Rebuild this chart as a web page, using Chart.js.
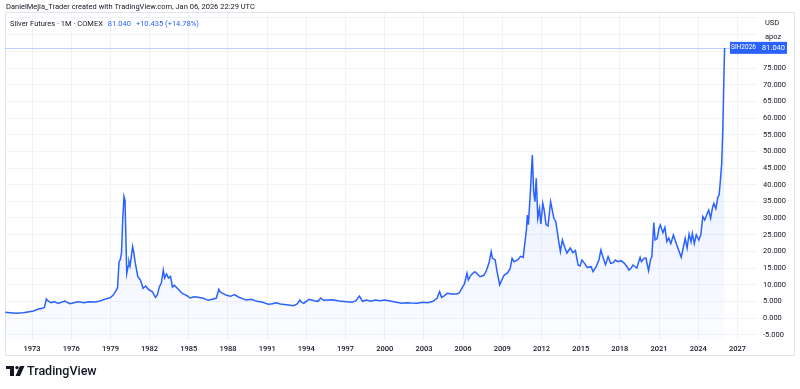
<!DOCTYPE html>
<html>
<head>
<meta charset="utf-8">
<script src="https://cdn.jsdelivr.net/npm/chart.js@4/dist/chart.umd.min.js"></script>
<style>
  body { margin: 0; background: #fff; }
  #chart { display: block; }
</style>
</head>
<body>
<canvas id="chart" width="800" height="389"></canvas>
<script>
// monthly-ish closes, Silver Futures 1M COMEX (decimal year -> USD/oz)
const years = [
  1970.95, 1971.3, 1971.8, 1972.3, 1972.8, 1973.1, 1973.5, 1973.8, 1973.95, 1974.1,
  1974.2, 1974.45, 1974.7, 1975.0, 1975.5, 1975.9, 1976.2, 1976.5, 1977.0, 1977.3,
  1977.8, 1978.2, 1978.7, 1979.0, 1979.2, 1979.4, 1979.55, 1979.66, 1979.75, 1979.85,
  1979.94, 1980.04, 1980.12, 1980.25, 1980.35, 1980.42, 1980.5, 1980.62, 1980.7, 1980.78,
  1980.9, 1981.1, 1981.3, 1981.5, 1981.7, 1981.9, 1982.2, 1982.45, 1982.6, 1982.75,
  1982.9, 1983.05, 1983.15, 1983.3, 1983.45, 1983.6, 1983.75, 1983.9, 1984.1, 1984.25,
  1984.45, 1984.7, 1984.9, 1985.1, 1985.4, 1985.7, 1986.1, 1986.5, 1986.8, 1987.1,
  1987.3, 1987.4, 1987.6, 1987.9, 1988.2, 1988.5, 1988.8, 1989.1, 1989.4, 1989.8,
  1990.2, 1990.6, 1991.1, 1991.4, 1991.7, 1992.0, 1992.5, 1993.0, 1993.3, 1993.5,
  1993.6, 1993.8, 1994.2, 1994.6, 1994.9, 1995.1, 1995.3, 1995.6, 1996.0, 1996.5,
  1997.1, 1997.5, 1997.8, 1998.05, 1998.15, 1998.3, 1998.6, 1998.9, 1999.3, 1999.6,
  2000.0, 2000.5, 2000.9, 2001.3, 2001.7, 2002.0, 2002.5, 2002.9, 2003.3, 2003.7,
  2004.0, 2004.2, 2004.35, 2004.5, 2004.8, 2005.1, 2005.5, 2005.7, 2005.9, 2006.1,
  2006.3, 2006.4, 2006.6, 2006.9, 2007.1, 2007.3, 2007.6, 2007.8, 2008.0, 2008.15,
  2008.25, 2008.45, 2008.6, 2008.8, 2008.95, 2009.15, 2009.4, 2009.6, 2009.75, 2009.9,
  2010.2, 2010.4, 2010.6, 2010.7, 2010.85, 2010.92, 2011.0, 2011.15, 2011.3, 2011.4,
  2011.5, 2011.6, 2011.72, 2011.85, 2011.95, 2012.1, 2012.2, 2012.35, 2012.5, 2012.7,
  2012.8, 2012.95, 2013.1, 2013.3, 2013.45, 2013.6, 2013.8, 2013.95, 2014.2, 2014.4,
  2014.6, 2014.8, 2014.95, 2015.1, 2015.3, 2015.5, 2015.8, 2015.95, 2016.2, 2016.4,
  2016.55, 2016.75, 2016.9, 2017.1, 2017.3, 2017.5, 2017.65, 2017.85, 2018.1, 2018.35,
  2018.55, 2018.7, 2018.85, 2019.0, 2019.3, 2019.55, 2019.65, 2019.85, 2020.0, 2020.2,
  2020.35, 2020.45, 2020.6, 2020.7, 2020.85, 2021.0, 2021.1, 2021.3, 2021.45, 2021.6,
  2021.75, 2021.9, 2022.1, 2022.3, 2022.5, 2022.7, 2022.85, 2023.0, 2023.15, 2023.3,
  2023.45, 2023.55, 2023.7, 2023.85, 2024.05, 2024.2, 2024.35, 2024.5, 2024.7, 2024.8,
  2024.95, 2025.1, 2025.2, 2025.35, 2025.5, 2025.6, 2025.7, 2025.8, 2025.88, 2025.96,
  2026.02
];
const closes = [
  1.7, 1.6, 1.4, 1.6, 1.9, 2.1, 2.7, 2.9, 3.2, 5.7,
  5.2, 4.6, 4.9, 4.4, 5.1, 4.3, 4.6, 4.9, 4.6, 4.9,
  4.8, 5.1, 5.8, 6.1, 6.8, 8.0, 9.2, 16.9, 17.4, 19.5,
  29.4, 36.4, 35.2, 13.4, 15.5, 16.9, 15.6, 19.0, 21.4, 19.8,
  16.6, 12.4, 11.4, 8.9, 9.6, 8.6, 7.9, 6.2, 7.0, 9.4,
  10.5, 14.4, 12.0, 13.2, 12.0, 12.5, 9.3, 9.8, 9.0, 8.4,
  7.5, 7.0, 6.6, 6.0, 6.4, 6.2, 5.9, 5.3, 5.6, 5.9,
  8.6, 7.8, 7.4, 6.8, 6.5, 7.0, 6.3, 5.8, 5.4, 5.6,
  5.0, 4.8, 4.1, 4.3, 4.6, 4.2, 4.0, 3.7, 4.2, 5.4,
  4.8, 4.4, 5.6, 5.2, 5.0, 6.0, 5.3, 5.4, 5.5, 5.1,
  4.9, 4.7, 5.2, 6.6, 6.0, 5.0, 5.4, 5.0, 5.4, 5.2,
  5.4, 5.0, 4.7, 4.4, 4.6, 4.5, 4.4, 4.7, 4.6, 5.0,
  5.9, 7.9, 6.2, 6.5, 7.4, 7.2, 7.2, 7.5, 8.9, 10.2,
  13.4, 11.4, 12.9, 13.9, 13.2, 12.4, 12.8, 14.4, 16.8, 19.9,
  17.9, 17.5, 14.0, 9.9, 11.3, 12.9, 13.5, 14.8, 17.9, 16.9,
  17.5, 18.5, 18.2, 21.6, 26.5, 30.9, 28.0, 37.9, 48.9, 38.0,
  34.9, 41.9, 29.9, 32.8, 28.2, 34.4, 32.5, 28.0, 27.6, 34.9,
  32.9, 29.9, 28.9, 23.5, 19.9, 23.4, 21.0, 19.5, 21.0, 19.6,
  20.2, 15.9, 15.6, 17.4, 16.4, 15.2, 15.4, 13.9, 15.5, 17.5,
  20.4, 17.8, 16.0, 18.4, 16.4, 16.6, 17.4, 16.9, 17.2, 16.4,
  15.4, 14.4, 14.9, 15.9, 15.0, 18.2, 16.9, 17.9, 18.0, 14.2,
  17.5, 18.4, 28.6, 23.4, 23.8, 26.9, 27.9, 25.6, 27.2, 22.9,
  24.0, 22.3, 24.9, 22.6, 20.4, 18.2, 21.0, 23.9, 21.0, 25.2,
  22.9, 25.4, 22.3, 25.0, 23.4, 25.0, 30.4, 29.4, 31.5, 32.4,
  29.9, 33.3, 34.4, 32.8, 36.2, 36.9, 41.4, 46.5, 56.5, 71.0,
  81.04
];
const yearTicks = [1973, 1976, 1979, 1982, 1985, 1988, 1991, 1994, 1997, 2000,
  2003, 2006, 2009, 2012, 2015, 2018, 2021, 2024, 2027];
const priceTicks = [-5, 0, 5, 10, 15, 20, 25, 30, 35, 40, 45, 50, 55, 60, 65, 70, 75, 80, 85, 90];
const lastPrice = 81.04;
const headerText = 'DanielMejia_Trader created with TradingView.com, Jan 06, 2026 22:29 UTC';
const seriesTitle = 'Silver Futures \u00b7 1M \u00b7 COMEX';
const changeText = '+10.435 (+14.78%)';

const blue = '#2962ff';
const textDark = '#131722';
const gridColor = '#f0f3fa';
const font = 'Roboto, "Noto Sans", sans-serif';

const points = years.map((x, i) => ({ x: x, y: closes[i] }));

// frame, header texts, price line and labels, logo
const overlay = {
  id: 'overlay',
  beforeDraw(chart) {
    const c = chart.ctx;
    c.save();
    c.strokeStyle = '#e0e3eb';
    c.lineWidth = 1;
    c.strokeRect(5.5, 12.5, 789, 343);
    c.restore();
  },
  afterDatasetsDraw(chart) {
    const c = chart.ctx;
    const area = chart.chartArea;
    const py = Math.round(chart.scales.y.getPixelForValue(lastPrice)) + 0.5;
    c.save();
    // last price line
    c.strokeStyle = 'rgba(41,98,255,0.3)';
    c.lineWidth = 1;
    c.beginPath();
    c.moveTo(area.left, py);
    c.lineTo(area.right, py);
    c.stroke();
    c.restore();
  },
  afterDraw(chart) {
    const c = chart.ctx;
    const py = chart.scales.y.getPixelForValue(lastPrice);
    c.save();
    c.textBaseline = 'middle';

    c.fillStyle = textDark;
    c.font = '7.5px ' + font;
    c.fillText(headerText, 6, 7);

    c.fillText(seriesTitle, 10, 24);
    let w = c.measureText(seriesTitle).width;
    c.fillStyle = blue;
    c.fillText(lastPrice.toFixed(3), 10 + w + 5, 24);
    w += c.measureText(lastPrice.toFixed(3)).width;
    c.fillText(changeText, 10 + w + 10, 24);

    // currency / unit labels
    c.fillStyle = textDark;
    c.textAlign = 'center';
    c.fillText('USD', 772, 23);
    c.fillText('apoz', 773, 37);

    // symbol + price badges
    c.fillStyle = blue;
    c.fillRect(730, py - 6, 27, 12);
    c.fillRect(757, py - 6, 30, 12);
    c.fillStyle = '#fff';
    c.font = '6.5px ' + font;
    c.fillText('SIH2026', 743.5, py);
    c.font = '7.5px ' + font;
    c.textAlign = 'left';
    c.fillText(lastPrice.toFixed(3), 762, py);

    // TradingView logo
    c.fillStyle = textDark;
    c.fillRect(6, 366, 8, 3);
    c.fillRect(10, 366, 4, 10);
    c.beginPath();
    c.arc(17, 367.6, 1.7, 0, Math.PI * 2);
    c.fill();
    c.beginPath();
    c.moveTo(20, 366);
    c.lineTo(24.5, 366);
    c.lineTo(20, 376);
    c.lineTo(15.5, 376);
    c.closePath();
    c.fill();
    c.font = '500 12.5px ' + font;
    c.fillText('TradingView', 27, 371.5);
    c.restore();
  }
};

new Chart(document.getElementById('chart').getContext('2d'), {
  type: 'line',
  data: {
    datasets: [{
      label: seriesTitle,
      data: points,
      borderColor: blue,
      borderWidth: 1.5,
      pointRadius: 0,
      tension: 0,
      fill: 'start',
      backgroundColor(context) {
        const area = context.chart.chartArea;
        if (!area) return 'rgba(41,98,255,0.06)';
        const g = context.chart.ctx.createLinearGradient(0, area.top, 0, area.bottom);
        g.addColorStop(0, 'rgba(41,98,255,0.16)');
        g.addColorStop(1, 'rgba(41,98,255,0.02)');
        return g;
      },
    }],
  },
  options: {
    responsive: false,
    animation: false,
    layout: { padding: { top: 13, left: 5, right: 0, bottom: 31 } },
    plugins: {
      legend: { display: false },
      tooltip: { enabled: false },
    },
    scales: {
      x: {
        type: 'linear',
        min: 1970.93,
        max: 2028.5,
        afterBuildTicks(scale) {
          scale.ticks = yearTicks.map((v) => ({ value: v }));
        },
        afterFit(scale) {
          scale.height = 18;
        },
        grid: { color: gridColor, drawTicks: false },
        border: { display: false },
        ticks: {
          padding: 5,
          maxRotation: 0,
          autoSkip: false,
          color: textDark,
          font: { family: font, size: 7.5, weight: '500' },
          callback: (v) => String(v),
        },
      },
      y: {
        position: 'right',
        min: -6.6,
        max: 91.5,
        afterBuildTicks(scale) {
          scale.ticks = priceTicks.map((v) => ({ value: v }));
        },
        afterFit(scale) {
          scale.width = 43;
        },
        grid: { color: gridColor, drawTicks: false },
        border: { display: false },
        ticks: {
          padding: 6,
          color: textDark,
          font: { family: font, size: 7.5 },
          callback: (v) => (v <= 75 ? v.toFixed(3) : ''),
        },
      },
    },
  },
  plugins: [overlay],
});
</script>
</body>
</html>
